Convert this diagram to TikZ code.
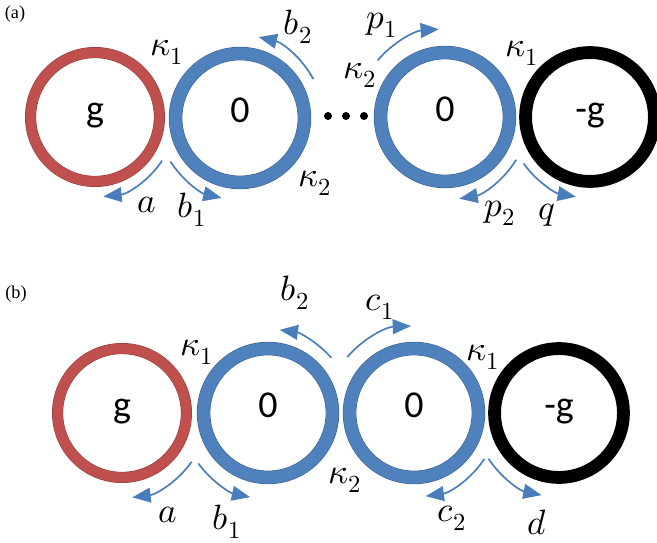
\documentclass[tikz,border=0pt]{standalone}
\usepackage{fontspec}
\usepackage{unicode-math}
\setmainfont{Liberation Serif}
\setmathfont{Latin Modern Math}
\newfontfamily\ringfont{Carlito}
\usetikzlibrary{arrows.meta}

\definecolor{ringred}{HTML}{C0504D}
\definecolor{ringblue}{HTML}{4F81BD}
\definecolor{flowblue}{HTML}{4A7EBB}

\tikzset{
  ring/.style={circle, minimum size=3.22cm, inner sep=0pt, text height=0.63em, text depth=0pt,
    font=\ringfont\fontsize{27}{29}\selectfont},
  redring/.style={ring, draw=ringred!75!black, double=ringred, double distance=0.25cm, line width=0.4pt},
  bluering/.style={ring, draw=ringblue!75!black, double=ringblue, double distance=0.31cm, line width=0.4pt},
  blackring/.style={ring, draw=black, line width=0.32cm},
  flow/.style={flowblue, line width=1.2pt, -{Triangle[length=13pt,width=10.5pt]}},
  lbl/.style={font=\fontsize{25}{27}\selectfont},
  panel/.style={font=\fontsize{13}{15}\selectfont}
}

\begin{document}
\begin{tikzpicture}[x=0.025cm,y=0.025cm]
\useasboundingbox (0,0) rectangle (657,-543);

% (a) chain with many rings
\node[panel] (pa) at (15,-14) {(a)};

\node[redring] (ga) at (95,-117) {g};
\node[bluering] (la) at (240,-118) {0};
\node[bluering] (ra) at (445,-117) {0};
\node[blackring] (ma) at (590,-117) {-g};
\foreach \x in {328,346,364} \fill (\x,-116) circle[radius=4];

\node[lbl] (k1a) at (167,-52) {$\kappa_1$};
\node[lbl] (k2a) at (315,-183) {$\kappa_2$};
\node[lbl] (k2ra) at (360,-75) {$\kappa_2$};
\node[lbl] (k1ra) at (522,-53) {$\kappa_1$};

\draw[flow] ([shift={(-33:80)}]ga.center) arc[start angle=-33, end angle=-84, radius=80];
\draw[flow] ([shift={(-148:82)}]la.center) arc[start angle=-148, end angle=-103, radius=82];
\draw[flow] ([shift={(28:83)}]la.center) arc[start angle=28, end angle=77, radius=83];
\draw[flow] ([shift={(140:88)}]ra.center) arc[start angle=140, end angle=94, radius=88];
\draw[flow] ([shift={(-31:83)}]ra.center) arc[start angle=-31, end angle=-80, radius=83];
\draw[flow] ([shift={(-145:81)}]ma.center) arc[start angle=-145, end angle=-100, radius=81];

\node[lbl] (aa) at (147,-205) {$a$};
\node[lbl] (b1a) at (192,-210) {$b_1$};
\node[lbl] (b2a) at (298,-27) {$b_2$};
\node[lbl] (p1a) at (382,-25) {$p_1$};
\node[lbl] (p2a) at (500,-213) {$p_2$};
\node[lbl] (qa) at (547,-215) {$q$};

% (b) two middle rings
\node[panel] (pb) at (16,-294) {(b)};

\node[redring] (gb) at (122,-413) {g};
\node[bluering] (lb) at (268,-413) {0};
\node[bluering] (rb) at (414,-413) {0};
\node[blackring] (mb) at (559,-413) {-g};

\node[lbl] (k1b) at (197,-352) {$\kappa_1$};
\node[lbl] (k2b) at (345,-480) {$\kappa_2$};
\node[lbl] (k1rb) at (483,-357) {$\kappa_1$};

\draw[flow] ([shift={(-35:85)}]gb.center) arc[start angle=-35, end angle=-83, radius=85];
\draw[flow] ([shift={(-144:86)}]lb.center) arc[start angle=-144, end angle=-102, radius=86];
\draw[flow] ([shift={(41:84)}]lb.center) arc[start angle=41, end angle=82, radius=84];
\draw[flow] ([shift={(140:87)}]rb.center) arc[start angle=140, end angle=92, radius=87];
\draw[flow] ([shift={(-33:84)}]rb.center) arc[start angle=-33, end angle=-82, radius=84];
\draw[flow] ([shift={(-147:84)}]mb.center) arc[start angle=-147, end angle=-102, radius=84];

\node[lbl] (ab) at (168,-515) {$a$};
\node[lbl] (b1b) at (227,-522) {$b_1$};
\node[lbl] (b2b) at (295,-293) {$b_2$};
\node[lbl] (c1b) at (380,-307) {$c_1$};
\node[lbl] (c2b) at (452,-518) {$c_2$};
\node[lbl] (db) at (537,-522) {$d$};

\end{tikzpicture}
\end{document}
